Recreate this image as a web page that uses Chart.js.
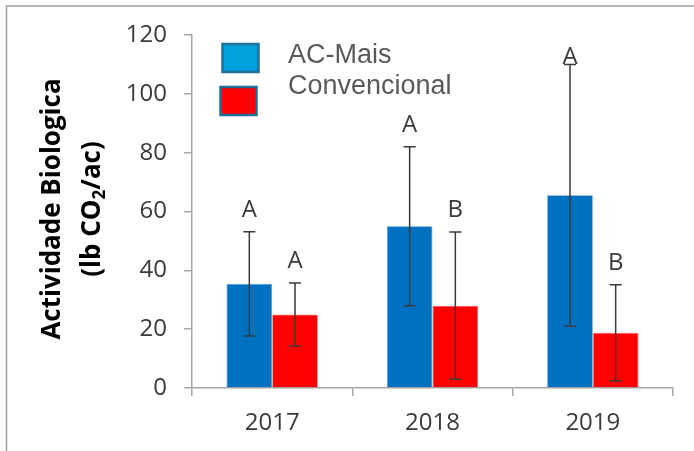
<!DOCTYPE html>
<html>
<head>
<meta charset="utf-8">
<script src="https://cdn.jsdelivr.net/npm/chart.js@4/dist/chart.umd.min.js"></script>
<style>
  html, body { margin: 0; padding: 0; background: #fff; }
  #wrap { width: 694px; height: 451px; position: relative; }
</style>
</head>
<body>
<div id="wrap"><canvas id="c" width="694" height="451"></canvas></div>
<script>
// Biological activity by year, two management systems
const years = ['2017', '2018', '2019'];
const seriesNames = ['AC-Mais', 'Convencional'];
const acMais = [35.4, 55, 65.5];
const acMaisSd = [17.7, 27, 44.5];
const convencional = [25, 28, 18.8];
const convencionalSd = [10.7, 25, 16.3];
const acMaisLetters = ['A', 'A', 'A'];
const convencionalLetters = ['A', 'B', 'B'];
const yTicks = [0, 20, 40, 60, 80, 100, 120];

const TEXT = '#3a3a3a';
const AXIS = '#a6a6a6';

// Frame around the figure (top and left edges)
const framePlugin = {
  id: 'frame',
  beforeDraw(chart) {
    const ctx = chart.ctx;
    ctx.save();
    ctx.strokeStyle = '#a0a0a0';
    ctx.lineWidth = 1.5;
    ctx.beginPath();
    ctx.moveTo(6.5, 451);
    ctx.lineTo(6.5, 6);
    ctx.lineTo(694, 6);
    ctx.stroke();
    ctx.restore();
  }
};

// Standard-deviation whiskers and significance letters
const errorPlugin = {
  id: 'errorBars',
  afterDatasetsDraw(chart) {
    const ctx = chart.ctx;
    const y = chart.scales.y;
    const area = chart.chartArea;
    ctx.save();
    chart.data.datasets.forEach((ds, di) => {
      const meta = chart.getDatasetMeta(di);
      meta.data.forEach((bar, i) => {
        const v = ds.data[i];
        const sd = ds.sd[i];
        const yTop = y.getPixelForValue(v + sd);
        const yBot = y.getPixelForValue(v - sd);
        const x = bar.x;
        ctx.strokeStyle = TEXT;
        ctx.lineWidth = 1.5;
        ctx.beginPath();
        ctx.moveTo(x, yTop); ctx.lineTo(x, yBot);
        ctx.moveTo(x - 6, yTop); ctx.lineTo(x + 6, yTop);
        ctx.moveTo(x - 6, yBot); ctx.lineTo(x + 6, yBot);
        ctx.stroke();
        // letter above the whisker
        const ly = Math.max(yTop - 22, area.top + 22);
        ctx.fillStyle = TEXT;
        ctx.font = '24px "Open Sans"';
        ctx.textAlign = 'center';
        ctx.textBaseline = 'middle';
        ctx.fillText(ds.letters[i], x, ly);
      });
    });
    ctx.restore();
  }
};

// Legend boxes with labels, and the rotated y-axis title
const decorPlugin = {
  id: 'decor',
  afterDraw(chart) {
    const ctx = chart.ctx;
    ctx.save();
    // legend
    const boxes = [
      { x: 222.5, y: 44, fill: '#00a0dc', text: seriesNames[0], ty: 56 },
      { x: 220.5, y: 87, fill: '#ff0000', text: seriesNames[1], ty: 87 }
    ];
    boxes.forEach(b => {
      ctx.fillStyle = b.fill;
      ctx.fillRect(b.x, b.y, 36, 28);
      ctx.strokeStyle = '#1f6f98';
      ctx.lineWidth = 2.5;
      ctx.strokeRect(b.x, b.y, 36, 28);
      ctx.fillStyle = '#595959';
      ctx.font = '27px "Liberation Sans"';
      ctx.textAlign = 'left';
      ctx.textBaseline = 'middle';
      ctx.fillText(b.text, 288, b.ty);
    });
    // y-axis title
    ctx.translate(0, 209);
    ctx.rotate(-Math.PI / 2);
    ctx.fillStyle = '#000';
    ctx.textBaseline = 'middle';
    ctx.textAlign = 'center';
    ctx.font = 'bold 26px "Open Sans"';
    ctx.fillText('Actividade Biologica', 0, 53);
    // second line with subscript
    const big = 'bold 26px "Open Sans"';
    const small = 'bold 17px "Open Sans"';
    const parts = [['(lb CO', big, 0], ['2', small, 7], ['/ac)', big, 0]];
    let total = 0;
    parts.forEach(p => { ctx.font = p[1]; total += ctx.measureText(p[0]).width; });
    let x = -total / 2;
    ctx.textAlign = 'left';
    parts.forEach(p => {
      ctx.font = p[1];
      ctx.fillText(p[0], x, 93 + p[2]);
      x += ctx.measureText(p[0]).width;
    });
    ctx.restore();
  }
};

function draw() {
  new Chart(document.getElementById('c'), {
    type: 'bar',
    data: {
      labels: years,
      datasets: [
        { label: seriesNames[0], data: acMais, sd: acMaisSd, letters: acMaisLetters,
          backgroundColor: '#0070c0', borderColor: '#5b9bd5', borderWidth: 0.8 },
        { label: seriesNames[1], data: convencional, sd: convencionalSd, letters: convencionalLetters,
          backgroundColor: '#ff0000', borderColor: '#ff8080', borderWidth: 0.8 }
      ]
    },
    options: {
      responsive: false,
      animation: false,
      devicePixelRatio: 1,
      layout: { padding: { top: 35, right: 21, left: 0, bottom: 0 } },
      datasets: { bar: { categoryPercentage: 0.57, barPercentage: 1.0 } },
      plugins: { legend: { display: false }, tooltip: { enabled: false } },
      scales: {
        x: {
          grid: { display: true, drawOnChartArea: false, drawTicks: true, tickLength: 8, color: AXIS, lineWidth: 1.5, offset: true },
          border: { display: true, color: AXIS, width: 1.5 },
          ticks: { color: TEXT, font: { family: 'Open Sans', size: 24 }, padding: 13 },
          afterFit(scale) { scale.height = 63; }
        },
        y: {
          min: 0, max: 120,
          afterBuildTicks(scale) { scale.ticks = yTicks.map(v => ({ value: v })); },
          grid: { display: true, drawOnChartArea: false, drawTicks: true, tickLength: 8, color: AXIS, lineWidth: 1.5 },
          border: { display: true, color: AXIS, width: 1.5 },
          ticks: { color: TEXT, font: { family: 'Open Sans', size: 24 }, padding: 17 },
          afterFit(scale) { scale.width = 192; }
        }
      }
    },
    plugins: [framePlugin, errorPlugin, decorPlugin]
  });
}

Promise.all([
  document.fonts.load('24px "Open Sans"'),
  document.fonts.load('bold 26px "Open Sans"'),
  document.fonts.load('27px "Liberation Sans"')
]).then(draw, draw);
</script>
</body>
</html>
